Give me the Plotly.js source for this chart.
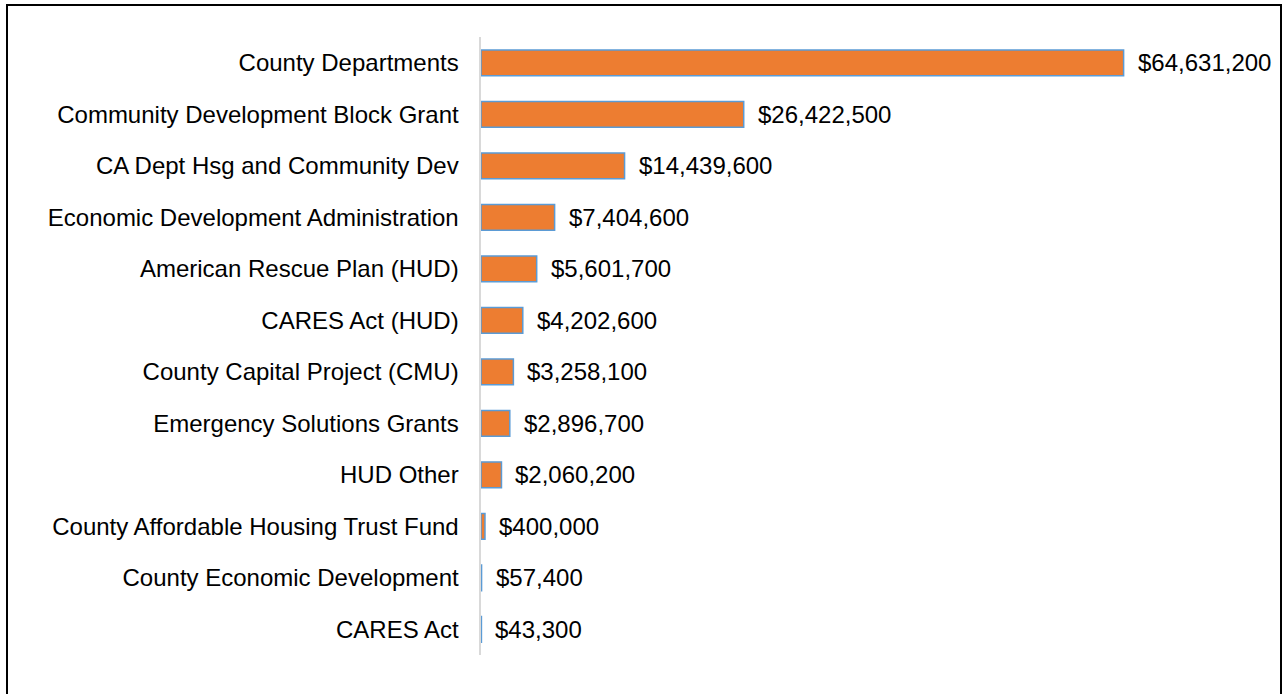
<!DOCTYPE html>
<html>
<head>
<meta charset="utf-8">
<script src="https://cdn.plot.ly/plotly-3.0.1.min.js"></script>
<style>
  body { margin: 0; background: #fff; }
  #chart { position: absolute; left: 0; top: 0; width: 1282px; height: 694px; }
  #frame { position: absolute; left: 6px; top: 4px; width: 1272px; height: 740px;
           border: 2px solid #000; pointer-events: none; }
</style>
</head>
<body>
<div id="chart"></div>
<div id="frame"></div>
<script>
// funding sources, top to bottom
var sources = [
    "County Departments",
    "Community Development Block Grant",
    "CA Dept Hsg and Community Dev",
    "Economic Development Administration",
    "American Rescue Plan (HUD)",
    "CARES Act (HUD)",
    "County Capital Project (CMU)",
    "Emergency Solutions Grants",
    "HUD Other",
    "County Affordable Housing Trust Fund",
    "County Economic Development",
    "CARES Act"
];
var amounts = [64631200, 26422500, 14439600, 7404600, 5601700, 4202600,
    3258100, 2896700, 2060200, 400000, 57400, 43300];

function money(v){
    return "$" + v.toLocaleString("en-US");
}

var bars = {
    type: "bar",
    orientation: "h",
    x: amounts,
    y: sources,
    marker: {color: "#ED7D31",
        line: {color: "#5B9BD5", width: 1.5}
    },
    width: 0.5,
    hoverinfo: "x+y"
};

var labels = amounts.map(function(v, i){
    return {
        x: v, y: sources[i],
        xref: "x", yref: "y",
        text: money(v),
        showarrow: false,
        xanchor: "left",
        xshift: 12,
        font: {family: "Liberation Sans, Arial, sans-serif", size: 24, color: "#000"}
    };
});

var layout = {
    width: 1282,
    height: 694,
    margin: {l: 481, r: 105, t: 37, b: 39},
    paper_bgcolor: "#fff",
    plot_bgcolor: "#fff",
    showlegend: false,
    font: {family: "Liberation Sans, Arial, sans-serif", size: 24, color: "#000"},
    xaxis: {
        range: [0, 70000000],
        visible: false,
        showgrid: false,
        zeroline: false,
        fixedrange: true
    },
    yaxis: {
        type: "category",
        autorange: "reversed",
        showline: true,
        linecolor: "#D9D9D9",
        linewidth: 2.5,
        showgrid: false,
        zeroline: false,
        ticks: "",
        ticklabelstandoff: 15,
        fixedrange: true
    },
    annotations: labels
};

Plotly.newPlot("chart", [bars], layout, {displayModeBar: false, staticPlot: true});
</script>
</body>
</html>
